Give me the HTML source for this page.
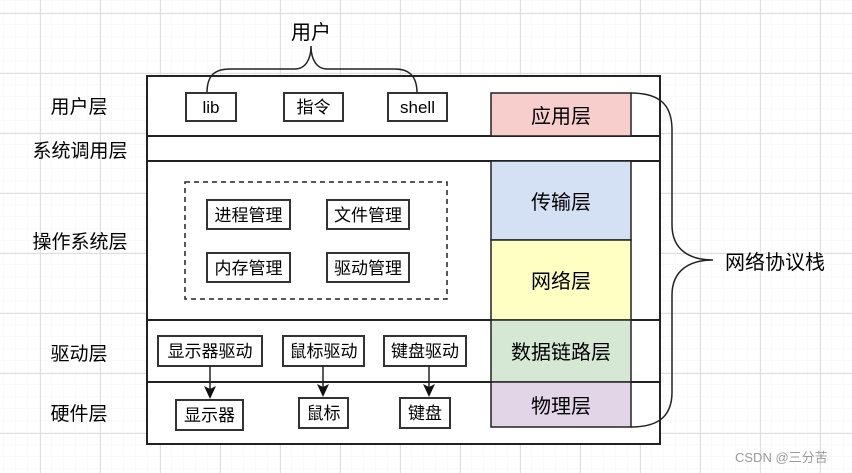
<!DOCTYPE html>
<html><head><meta charset="utf-8"><style>
html,body{margin:0;padding:0;background:#fff;}
svg{display:block;}
text{font-family:"Liberation Sans","Noto Sans CJK SC",sans-serif;fill:#000;}
</style></head><body>
<svg width="852" height="473" viewBox="0 0 852 473" xmlns="http://www.w3.org/2000/svg">
<defs>
<pattern id="minor" width="12" height="12" patternUnits="userSpaceOnUse" x="4" y="1">
<path d="M12 0V12M0 12H12" stroke="#f3f3f3" stroke-width="1" fill="none"/>
</pattern>
<pattern id="major" width="60" height="60" patternUnits="userSpaceOnUse" x="40" y="13">
<path d="M0.5 0V60M0 0.5H60" stroke="#dedede" stroke-width="1" fill="none"/>
</pattern>
</defs>
<rect width="852" height="473" fill="#fff"/>
<rect width="852" height="473" fill="url(#minor)"/>
<rect width="852" height="473" fill="url(#major)"/>

<rect x="147" y="76" width="513" height="368" fill="#fff" stroke="#222" stroke-width="2"/>
<g stroke="#222" stroke-width="2">
<line x1="147" y1="136" x2="660" y2="136"/>
<line x1="147" y1="161" x2="660" y2="161"/>
<line x1="147" y1="320" x2="660" y2="320"/>
<line x1="147" y1="382" x2="660" y2="382"/>
</g>

<g stroke="#222" stroke-width="1.5">
<rect x="491" y="93" width="140" height="43" fill="#f8cecc"/>
<rect x="491" y="161" width="140" height="79" fill="#d4e1f5"/>
<rect x="491" y="240" width="140" height="80" fill="#ffffc4"/>
<rect x="491" y="320" width="140" height="62" fill="#d5e8d4"/>
<rect x="491" y="382" width="140" height="45" fill="#e1d5e7"/>
</g>
<g font-size="20" text-anchor="middle">
<text x="561" y="123">应用层</text>
<text x="561" y="209">传输层</text>
<text x="561" y="288">网络层</text>
<text x="561" y="359">数据链路层</text>
<text x="561" y="413">物理层</text>
</g>

<path d="M631 93 C660 93 672 105 672 130 L672 225 C672 250 690 260 713 260 C690 260 672 270 672 295 L672 392 C672 415 660 427 631 427" fill="none" stroke="#222" stroke-width="1.5"/>
<text x="725" y="269" font-size="20">网络协议栈</text>

<g font-size="19" text-anchor="middle">
<text x="79" y="113">用户层</text>
<text x="80" y="157">系统调用层</text>
<text x="80" y="248">操作系统层</text>
<text x="79" y="360">驱动层</text>
<text x="79" y="420">硬件层</text>
</g>

<text x="311" y="39" font-size="20" text-anchor="middle">用户</text>
<path d="M207 93 C207 75 215 69 230 69 L295 69 C305 69 311 60 311 46 C311 60 317 69 327 69 L395 69 C408 69 417 75 417 93" fill="none" stroke="#222" stroke-width="1.5"/>
<g stroke="#333" stroke-width="2" fill="#fff">
<rect x="186" y="93" width="50" height="28"/>
<rect x="284" y="93" width="59" height="28"/>
<rect x="388" y="93" width="59" height="28"/>
</g>
<g font-size="17" text-anchor="middle">
<text x="211" y="113">lib</text>
<text x="313.5" y="113">指令</text>
<text x="417.5" y="113">shell</text>
</g>

<rect x="185" y="182" width="262" height="117" fill="none" stroke="#222" stroke-width="1.5" stroke-dasharray="5,4"/>
<g stroke="#333" stroke-width="2" fill="#fff">
<rect x="207" y="200" width="83" height="29"/>
<rect x="327" y="200" width="82" height="29"/>
<rect x="207" y="253" width="83" height="29"/>
<rect x="327" y="253" width="82" height="29"/>
</g>
<g font-size="17" text-anchor="middle">
<text x="248.5" y="221">进程管理</text>
<text x="368" y="221">文件管理</text>
<text x="248.5" y="274">内存管理</text>
<text x="368" y="274">驱动管理</text>
</g>

<g stroke="#333" stroke-width="2" fill="#fff">
<rect x="158" y="336" width="104" height="30"/>
<rect x="283" y="336" width="81" height="30"/>
<rect x="384" y="336" width="82" height="30"/>
<rect x="176" y="400" width="67" height="30"/>
<rect x="299" y="398" width="49" height="30"/>
<rect x="400" y="398" width="50" height="30"/>
</g>
<g font-size="17" text-anchor="middle">
<text x="210" y="357">显示器驱动</text>
<text x="323.5" y="357">鼠标驱动</text>
<text x="425" y="357">键盘驱动</text>
<text x="209.5" y="421">显示器</text>
<text x="323.5" y="419">鼠标</text>
<text x="425" y="419">键盘</text>
</g>
<g stroke="#222" stroke-width="1.5">
<line x1="210" y1="366" x2="210" y2="392"/>
<line x1="323" y1="366" x2="323" y2="390"/>
<line x1="429" y1="366" x2="429" y2="390"/>
</g>
<g fill="#111">
<path d="M204 386 L210 399 L216 386 L210 389 Z"/>
<path d="M317 384 L323 397 L329 384 L323 387 Z"/>
<path d="M423 384 L429 397 L435 384 L429 387 Z"/>
</g>

<text x="735" y="462" font-size="13" style="fill:#9a9a9a">CSDN @三分苦</text>
</svg>
</body></html>
